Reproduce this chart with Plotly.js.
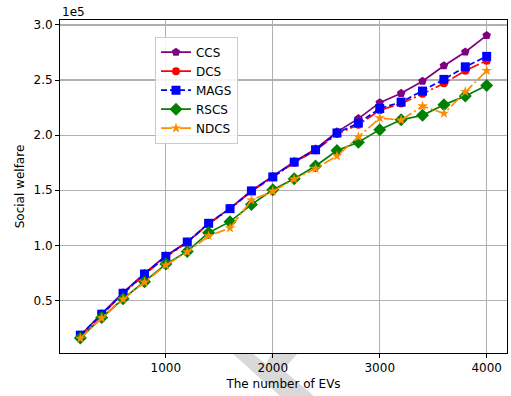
<!DOCTYPE html>
<html>
<head>
<meta charset="utf-8">
<script src="https://cdn.plot.ly/plotly-3.0.1.min.js"></script>
<style>html,body{margin:0;padding:0;background:#fff;}#chart{width:511px;height:396px;}</style>
</head>
<body>
<div id="chart"></div>
<script>
// Number of EVs
const evCounts = [200,400,600,800,1000,1200,1400,1600,1800,2000,2200,2400,2600,2800,3000,3200,3400,3600,3800,4000];
// Social welfare, in units of 1e5
const ccs  = [0.18,0.38,0.57,0.745,0.905,1.03,1.20,1.335,1.495,1.625,1.76,1.875,2.03,2.15,2.295,2.38,2.49,2.63,2.755,2.905];
const dcs  = [0.18,0.37,0.56,0.735,0.895,1.025,1.195,1.33,1.49,1.618,1.75,1.862,2.01,2.095,2.225,2.288,2.375,2.47,2.585,2.676];
const mags = [0.185,0.375,0.565,0.74,0.90,1.03,1.20,1.333,1.494,1.621,1.755,1.867,2.02,2.11,2.242,2.30,2.40,2.506,2.62,2.715];
const rscs = [0.16,0.345,0.515,0.67,0.83,0.945,1.115,1.215,1.37,1.505,1.605,1.72,1.86,1.935,2.05,2.14,2.18,2.275,2.355,2.45];
const ndcs = [0.155,0.34,0.51,0.665,0.82,0.94,1.085,1.157,1.41,1.49,1.60,1.697,1.81,1.985,2.155,2.136,2.264,2.197,2.395,2.585];
const yTicks = [0.5,1.0,1.5,2.0,2.5,3.0];
const xTicks = [1000,2000,3000,4000];

function tr(name, y, color, dash, symbol, size){
  return {x: evCounts, y: y, name: name, type: 'scatter', mode: 'lines+markers',
    line: {color: color, width: 1.7, dash: dash},
    marker: {color: color, symbol: symbol, size: size, line: {width: 0}}};
}
const data = [
  tr('CCS', ccs, '#800080', 'solid', 'pentagon', 9),
  tr('DCS', dcs, '#ff0000', '11px,3px,2px,3px', 'circle', 8),
  tr('MAGS', mags, '#0000ff', '6px,3px', 'square', 9),
  tr('RSCS', rscs, '#008000', 'solid', 'diamond', 10),
  tr('NDCS', ndcs, '#ff8c00', '11px,3px,2px,3px', 'star', 8)
];

function P(px, py){ return [(px-60)/447, (353-py)/333]; }
const wm = [[232,353],[252,353],[266,364],[272,353],[298,353],[283,370],[314,396],[280,396],[262,380]].map(p=>P(p[0],p[1]));
const wmPath = 'M' + wm.map(p=>p[0].toFixed(4)+','+p[1].toFixed(4)).join('L') + 'Z';

const layout = {
  width: 511, height: 396,
  margin: {l: 60, r: 4, t: 20, b: 43, pad: 0},
  paper_bgcolor: '#ffffff', plot_bgcolor: '#ffffff',
  font: {family: 'DejaVu Sans', size: 12, color: '#000'},
  showlegend: true,
  legend: {x: 0.2125, y: 0.95, xanchor: 'left', yanchor: 'top',
    bgcolor: 'rgba(255,255,255,0.85)', bordercolor: '#cccccc', borderwidth: 1,
    font: {family: 'DejaVu Sans', size: 12}, itemwidth: 30, tracegroupgap: 0},
  xaxis: {range: [10, 4190], tickvals: xTicks, ticktext: xTicks.map(String),
    showgrid: true, gridcolor: '#b0b0b0', gridwidth: 1.2, zeroline: false,
    showline: true, linecolor: '#000', linewidth: 1, mirror: true,
    ticks: 'outside', ticklen: 4, tickcolor: '#000', tickwidth: 1,
    tickfont: {size: 12},
    title: {text: 'The number of EVs', font: {size: 12}, standoff: 5}, automargin: false},
  yaxis: {range: [0.023, 3.045], tickvals: yTicks, ticktext: yTicks.map(v=>v.toFixed(1)),
    showgrid: true, gridcolor: '#b0b0b0', gridwidth: 1.2, zeroline: false,
    showline: true, linecolor: '#000', linewidth: 1, mirror: true,
    ticks: 'outside', ticklen: 4, tickcolor: '#000', tickwidth: 1,
    tickfont: {size: 12},
    title: {text: 'Social welfare', font: {size: 12}, standoff: 6}, automargin: false},
  annotations: [{text: '1e5', xref: 'paper', yref: 'paper', x: 0, y: 1, xanchor: 'left', yanchor: 'bottom',
    showarrow: false, font: {size: 12}, xshift: 0, yshift: -1}],
  shapes: [{type: 'path', xref: 'paper', yref: 'paper', path: wmPath,
    fillcolor: '#d9d9d9', line: {width: 0}, layer: 'below'}]
};
Plotly.newPlot('chart', data, layout, {displayModeBar: false, staticPlot: true});
</script>
</body>
</html>
